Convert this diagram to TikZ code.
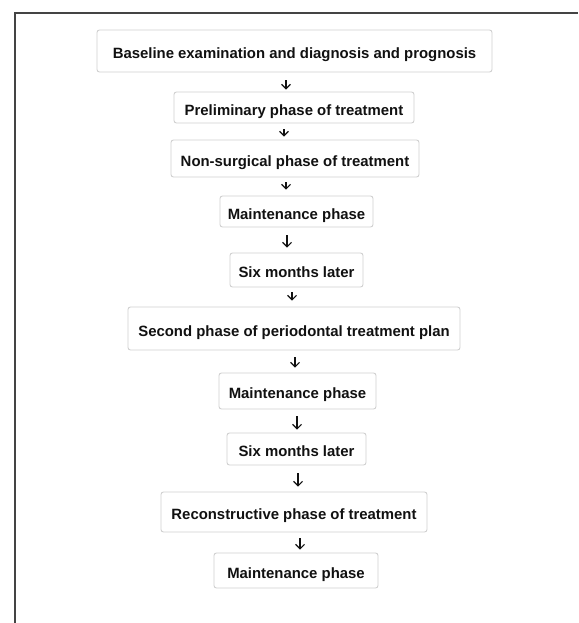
\documentclass[tikz,border=0pt]{standalone}
\usepackage{fontspec}
\setmainfont{Liberation Sans}
\usetikzlibrary{arrows.meta}
\definecolor{boxline}{HTML}{D0D0D0}
\definecolor{frameline}{HTML}{444444}
\definecolor{txt}{HTML}{111111}
\begin{document}
\begin{tikzpicture}[x=1pt,y=-1pt,
  stepbox/.style={draw=boxline, line width=0.9pt, rounded corners=2.5pt, fill=white,
    inner sep=0pt, text height=15pt, text depth=0pt, text=txt, font=\fontsize{14.9}{17}\selectfont\bfseries},
  arr/.style={draw=txt, line width=1.1pt, -{Straight Barb[length=4.5pt,width=9pt,line width=1.1pt]}}]
\useasboundingbox (0,0) rectangle (578,623);
\draw[frameline, line width=2pt] (14.5,623) -- (14.5,13.5) -- (578,13.5);
\node[stepbox, minimum width=395pt, minimum height=42pt] (b1) at (294.5,51) {Baseline examination and diagnosis and prognosis};
\node[stepbox, minimum width=240pt, minimum height=31pt] (b2) at (294,107.5) {Preliminary phase of treatment};
\node[stepbox, minimum width=248pt, minimum height=37pt] (b3) at (295,158.5) {Non-surgical phase of treatment};
\node[stepbox, minimum width=153pt, minimum height=31pt] (b4) at (296.5,211.5) {Maintenance phase};
\node[stepbox, minimum width=133pt, minimum height=34pt] (b5) at (296.5,270) {Six months later};
\node[stepbox, minimum width=332pt, minimum height=43pt] (b6) at (294,328.5) {Second phase of periodontal treatment plan};
\node[stepbox, minimum width=157pt, minimum height=36pt] (b7) at (297.5,391) {Maintenance phase};
\node[stepbox, minimum width=139pt, minimum height=32pt] (b8) at (296.5,449) {Six months later};
\node[stepbox, minimum width=266pt, minimum height=40pt] (b9) at (294,512) {Reconstructive phase of treatment};
\node[stepbox, minimum width=164pt, minimum height=35pt] (b10) at (296,570.5) {Maintenance phase};
\draw[arr] ([xshift=-8.5pt,yshift=-8pt]b1.south) -- ([xshift=-8pt,yshift=2pt]b2.north);
\draw[arr] ([xshift=-10pt,yshift=-6pt]b2.south) -- ([xshift=-11pt,yshift=3pt]b3.north);
\draw[arr] ([xshift=-9pt,yshift=-5pt]b3.south) -- ([xshift=-10.5pt,yshift=6pt]b4.north);
\draw[arr] ([xshift=-9.5pt,yshift=-8pt]b4.south) -- ([xshift=-9.5pt,yshift=5pt]b5.north);
\draw[arr] ([xshift=-4.5pt,yshift=-5pt]b5.south) -- ([xshift=-2pt,yshift=6pt]b6.north);
\draw[arr] ([xshift=1pt,yshift=-7pt]b6.south) -- ([xshift=-2.5pt,yshift=5pt]b7.north);
\draw[arr] ([xshift=-0.5pt,yshift=-7pt]b7.south) -- ([xshift=0.5pt,yshift=3pt]b8.north);
\draw[arr] ([xshift=1.5pt,yshift=-8pt]b8.south) -- ([xshift=4pt,yshift=5pt]b9.north);
\draw[arr] ([xshift=6pt,yshift=-6pt]b9.south) -- ([xshift=4pt,yshift=3pt]b10.north);
\end{tikzpicture}
\end{document}
